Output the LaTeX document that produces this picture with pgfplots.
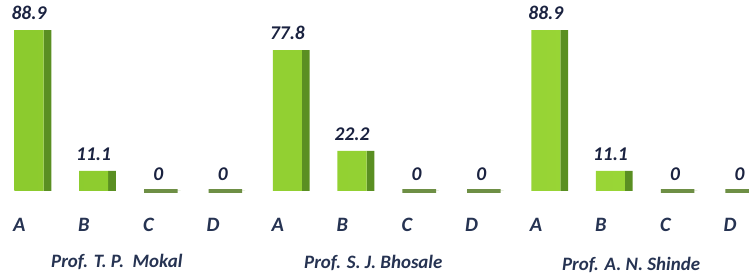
\documentclass[border=0pt]{standalone}
\usepackage{pgfplots}
\pgfplotsset{compat=1.18}
\usepackage{pgfplotstable}
\usepackage{fontspec}
\setmainfont{Carlito}
\definecolor{front}{HTML}{9CD838}
\definecolor{frontdark}{HTML}{8CCB2E}
\definecolor{side}{HTML}{5A8F22}
\definecolor{plate}{HTML}{6E8F45}
\definecolor{navy}{HTML}{1A2240}
\definecolor{slate}{HTML}{263352}
\pgfplotstableread{
x  y     label
0  88.9  88.9
1  11.1  11.1
2  0     0
3  0     0
4  77.8  77.8
5  22.2  22.2
6  0     0
7  0     0
8  88.9  88.9
9  11.1  11.1
10 0     0
11 0     0
}\datatable
\tikzset{catlab/.style={font=\fontsize{20.5}{24}\selectfont\bfseries\itshape, text=slate},
         grplab/.style={font=\fontsize{19}{22}\selectfont\bfseries\itshape, text=slate}}
\begin{document}
\begin{tikzpicture}
\begin{axis}[
  scale only axis,
  width=749bp, height=275bp,
  xmin=-0.449, xmax=11.145,
  ymin=-46.4, ymax=105.5,
  hide axis,
  clip=false,
  ybar,
]
% side faces
\addplot[ybar, bar width=0.12, bar shift=0.285, fill=side, draw=none]
  table[x=x, y=y] {\datatable};
% front faces
\addplot[ybar, bar width=0.45, bar shift=0, draw=none,
  left color=frontdark, right color=front,
  nodes near coords, point meta=explicit symbolic,
  every node near coord/.append style={font=\fontsize{19.5}{22}\selectfont\bfseries\itshape, text=navy, inner sep=0pt, yshift=10bp}]
  table[x=x, y=y, meta=label] {\datatable};
% flat plates for zero values
\addplot[ybar, bar width=0.52, bar shift=0.04, draw=plate, line width=4.5bp, fill=none]
  coordinates {(2,0) (3,0) (6,0) (7,0) (10,0) (11,0)};
\node[catlab] at (axis cs:-0.15,-18.8) {A};
\node[catlab] at (axis cs:0.85,-18.8) {B};
\node[catlab] at (axis cs:1.85,-18.8) {C};
\node[catlab] at (axis cs:2.85,-18.8) {D};
\node[catlab] at (axis cs:3.85,-18.8) {A};
\node[catlab] at (axis cs:4.85,-18.8) {B};
\node[catlab] at (axis cs:5.85,-18.8) {C};
\node[catlab] at (axis cs:6.85,-18.8) {D};
\node[catlab] at (axis cs:7.85,-18.8) {A};
\node[catlab] at (axis cs:8.85,-18.8) {B};
\node[catlab] at (axis cs:9.85,-18.8) {C};
\node[catlab] at (axis cs:10.85,-18.8) {D};
\node[grplab] at (axis cs:1.36,-39.2) {Prof. T. P.\ \ Mokal};
\node[grplab] at (axis cs:5.33,-39.6) {Prof. S. J. Bhosale};
\node[grplab] at (axis cs:9.32,-40.8) {Prof. A. N. Shinde};
\end{axis}
\pgfresetboundingbox
\useasboundingbox (current axis.south west) rectangle (current axis.north east);
\end{tikzpicture}
\end{document}
